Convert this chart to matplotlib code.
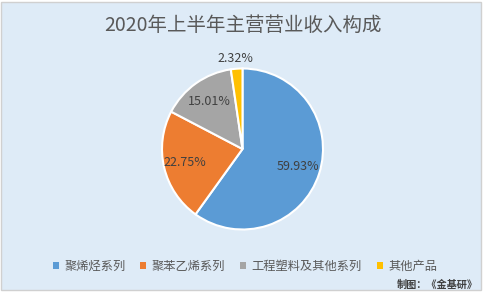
import matplotlib
matplotlib.use("Agg")
import matplotlib.pyplot as plt
from matplotlib.patches import Rectangle
import numpy as np

plt.rcParams['font.family'] = ['Noto Sans CJK SC', 'DejaVu Sans']

title = "2020年上半年主营营业收入构成"
categories = ["聚烯烃系列", "聚苯乙烯系列", "工程塑料及其他系列", "其他产品"]
values = [59.93, 22.75, 15.01, 2.32]
labels = ["59.93%", "22.75%", "15.01%", "2.32%"]
colors = ["#5B9BD5", "#ED7D31", "#A5A5A5", "#FFC000"]
label_dist = [0.72, 0.74, 0.72, 1.13]
source = "制图：《金基研》"

W, H = 485, 293
fig = plt.figure(figsize=(W / 100, H / 100), dpi=100)
fig.patch.set_facecolor("white")
fig.patches.append(Rectangle((1.5 / W, 3 / H), 480 / W, 288.5 / H, transform=fig.transFigure,
                             facecolor="#DEEBF7", edgecolor="#D0D0D0", linewidth=1.0, zorder=-5))

cx, cy, r = 242.5, 293 - 149, 80.5
ax = fig.add_axes([(cx - r) / W, (cy - r) / H, 2 * r / W, 2 * r / H])
ax.set_zorder(2)
ax.set_axis_off()
wedges, _ = ax.pie(values, colors=colors, startangle=90, counterclock=False,
                   wedgeprops=dict(edgecolor="white", linewidth=1.5), radius=1.0)
ax.set_xlim(-1, 1)
ax.set_ylim(-1, 1)

for w, lab, d in zip(wedges, labels, label_dist):
    ang = np.deg2rad((w.theta1 + w.theta2) / 2)
    ax.text(d * np.cos(ang), d * np.sin(ang), lab, ha="center", va="center",
            fontsize=9, color="#404040", clip_on=False)

fig.text(0.5, 1 - 25 / H, title, ha="center", va="center", fontsize=14, color="#595959")

handles = [Rectangle((0, 0), 1, 1, facecolor=c, edgecolor="none") for c in colors]
leg = fig.legend(handles, categories, loc="center", bbox_to_anchor=(0.505, 1 - 266 / H),
                 ncol=4, frameon=False, fontsize=8.8, handlelength=0.5, handleheight=0.5,
                 handletextpad=0.45, columnspacing=1.2, borderaxespad=0, labelcolor="#595959")

fig.text(478 / W, 1 - 285 / H, source, ha="right", va="center", fontsize=7.3,
         fontweight="bold", color="#404040")

fig.savefig("out.png", dpi=100, facecolor=fig.get_facecolor())
